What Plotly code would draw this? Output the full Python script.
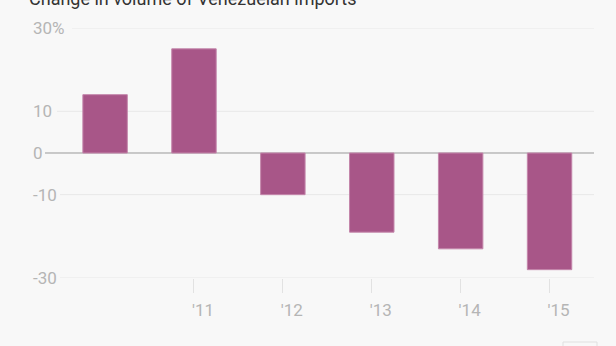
import plotly.graph_objects as go

years = [2010, 2011, 2012, 2013, 2014, 2015]
change = [14, 25, -10, -19, -23, -28]
x_tickvals = [2011, 2012, 2013, 2014, 2015]
x_ticktext = ["'11", "'12", "'13", "'14", "'15"]
y_tickvals = [30, 10, 0, -10, -30]
y_ticktext = ["30%", "10", "0", "-10", "-30"]
title_text = "Change in volume of Venezuelan imports"

W, H = 616, 346
L, R = 30, 594  # plot area px
T, B = 28, 278
bg = "#f8f8f8"
bar_color = "#a85688"
label_color = "#b5b5b5"

fig = go.Figure()
fig.add_trace(go.Bar(
    x=years, y=change, width=0.5,
    marker=dict(color=bar_color, line=dict(color="#c486ab", width=1)),
    hoverinfo="skip",
))

def px2paper(px):
    return (px - L) / (R - L)

def py2paper(py):
    return (B - py) / (B - T)

# gridlines start after the label (Quartz style)
grid_starts = {30: 72, 10: 57, 0: 45, -10: 60, -30: 60}
shapes = []
for v in y_tickvals:
    shapes.append(dict(
        type="line", xref="paper", yref="y",
        x0=px2paper(grid_starts[v]), x1=1.0, y0=v, y1=v,
        line=dict(color="#999999" if v == 0 else "#e8e8e8", width=1),
        layer="below",
    ))
# small button outline at the bottom right, cut by the frame
shapes.append(dict(
    type="rect", xref="paper", yref="paper",
    x0=px2paper(563), x1=px2paper(597), y0=py2paper(352), y1=py2paper(342),
    line=dict(color="#e0e0e0", width=1), fillcolor="rgba(0,0,0,0)",
))

fig.update_layout(
    width=W, height=H,
    margin=dict(l=L, r=W - R, t=T, b=H - B, pad=0),
    paper_bgcolor=bg, plot_bgcolor=bg,
    showlegend=False,
    shapes=shapes,
    font=dict(family="Roboto", color=label_color, size=17),
    xaxis=dict(
        range=[2009.5 - (60.6 - L) / 88.8, 2015.5],
        tickvals=x_tickvals, ticktext=x_ticktext,
        ticks="outside", ticklen=14, tickcolor="#e2e2e2", tickwidth=1,
        showgrid=False, zeroline=False, showline=False,
        ticklabelshift=9, ticklabelstandoff=3,
        tickfont=dict(family="Roboto", size=17, color=label_color),
        fixedrange=True,
    ),
    yaxis=dict(
        range=[-30, 30],
        tickvals=y_tickvals, ticktext=y_ticktext,
        ticklabelposition="inside", ticks="",
        ticklabeloverflow="allow",
        showgrid=False, zeroline=False, showline=False,
        tickfont=dict(family="Roboto", size=17, color=label_color),
        fixedrange=True,
    ),
    annotations=[dict(
        text=title_text, xref="paper", yref="paper",
        x=px2paper(27), y=1, xanchor="left", yanchor="middle",
        yshift=30, showarrow=False,
        font=dict(family="Roboto", size=18, color="#333333"),
    )],
)

fig.write_html("out.html")
